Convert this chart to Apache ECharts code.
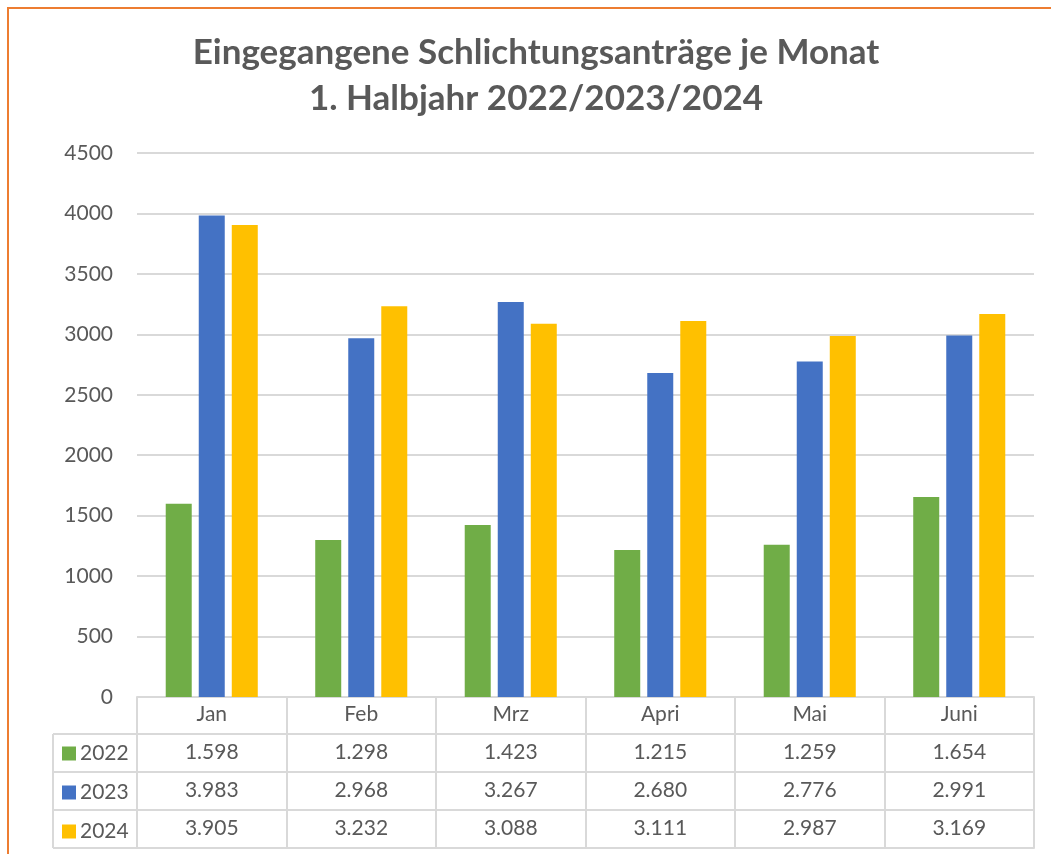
<!DOCTYPE html>
<html lang="de">
<head>
    <meta charset="UTF-8">
    <title>Schlichtungsanträge</title>
    <script src="https://cdn.jsdelivr.net/npm/echarts@6/dist/echarts.min.js"></script>
    <style>
        html, body { margin: 0; padding: 0; background: #fff; }
    </style>
</head>
<body>
<div id="main" style="width: 1051px;height:854px;"></div>
<script type="text/javascript">
    // Daten
    var months = ['Jan', 'Feb', 'Mrz', 'Apri', 'Mai', 'Juni'];
    var years = ['2022', '2023', '2024'];
    var v2022 = [1598, 1298, 1423, 1215, 1259, 1654];
    var v2023 = [3983, 2968, 3267, 2680, 2776, 2991];
    var v2024 = [3905, 3232, 3088, 3111, 2987, 3169];
    var yTicks = [0, 500, 1000, 1500, 2000, 2500, 3000, 3500, 4000, 4500];

    var colors = ['#70AD47', '#4472C4', '#FFC000'];
    var values = [v2022, v2023, v2024];
    var textColor = '#595959';
    var lineColor = '#D9D9D9';
    var font = 'Lato';
    var fs = 21;

    // Tabellen-Geometrie
    var gridLeft = 137, gridRight = 17, gridTop = 153, gridBottom = 157;
    var axisY = 854 - gridBottom;
    var headH = 37, rowH = 38;
    var tableLeft = 53;

    // 1598 -> "1.598"
    function fmt(n) {
        return String(n).replace(/\B(?=(\d{3})+(?!\d))/g, '.');
    }

    var myChart = echarts.init(document.getElementById('main'));

    var xAxes = [{
        type: 'category',
        data: months,
        position: 'bottom',
        axisLine: { show: true, lineStyle: { color: lineColor, width: 2 } },
        axisTick: { show: true, length: headH, interval: 0, lineStyle: { color: lineColor, width: 2 } },
        axisLabel: { color: textColor, fontSize: fs, fontFamily: font, margin: 7, interval: 0 }
    }];
    values.forEach(function (vals, i) {
        xAxes.push({
            type: 'category',
            data: months,
            position: 'bottom',
            offset: headH + i * rowH,
            axisLine: { show: true, lineStyle: { color: lineColor, width: 2 } },
            axisTick: { show: true, length: rowH, interval: 0, lineStyle: { color: lineColor, width: 2 } },
            axisLabel: {
                color: textColor, fontSize: fs, fontFamily: font, margin: 8, interval: 0,
                formatter: function (v, idx) { return fmt(vals[idx]); }
            }
        });
    });
    // untere Tabellenlinie
    xAxes.push({
        type: 'category',
        data: months,
        position: 'bottom',
        offset: headH + 3 * rowH,
        axisLine: { show: true, lineStyle: { color: lineColor, width: 2 } },
        axisTick: { show: false },
        axisLabel: { show: false }
    });

    var series = years.map(function (y, i) {
        return {
            name: y,
            type: 'bar',
            data: values[i],
            barWidth: 26,
            barGap: '27%',
            itemStyle: { color: colors[i] }
        };
    });

    // linke Legendenspalte der Tabelle
    var y0 = axisY + headH;
    var legendLines = [];
    for (var r = 0; r <= 3; r++) {
        legendLines.push({
            type: 'line',
            shape: { x1: tableLeft, y1: y0 + r * rowH, x2: gridLeft, y2: y0 + r * rowH },
            style: { stroke: lineColor, lineWidth: 2 }
        });
    }
    legendLines.push({
        type: 'line',
        shape: { x1: tableLeft, y1: y0, x2: tableLeft, y2: y0 + 3 * rowH },
        style: { stroke: lineColor, lineWidth: 2 }
    });

    var option = {
        animation: false,
        textStyle: { fontFamily: font },
        title: {
            text: 'Eingegangene Schlichtungsanträge je Monat\n1. Halbjahr 2022/2023/2024',
            left: 536,
            top: 30,
            textAlign: 'center',
            padding: 0,
            textStyle: {
                color: textColor,
                fontSize: 35,
                fontWeight: 'bold',
                fontFamily: font,
                lineHeight: 46
            }
        },
        legend: {
            data: years,
            orient: 'vertical',
            left: 62,
            top: y0 + 9,
            padding: 0,
            itemWidth: 14,
            itemHeight: 14,
            itemGap: 18,
            icon: 'rect',
            selectedMode: false,
            textStyle: { color: textColor, fontSize: fs, fontFamily: font, lineHeight: 20, padding: [0, 0, 0, -1] }
        },
        grid: { left: gridLeft, right: gridRight, top: gridTop, bottom: gridBottom, containLabel: false },
        xAxis: xAxes,
        yAxis: {
            type: 'value',
            min: yTicks[0],
            max: yTicks[yTicks.length - 1],
            interval: 500,
            axisLine: { show: false },
            axisTick: { show: false },
            axisLabel: {
                color: textColor, fontSize: fs, fontFamily: font, margin: 24,
                formatter: function (v) { return String(v); }
            },
            splitLine: { lineStyle: { color: lineColor, width: 2 } }
        },
        series: series,
        graphic: [{
            type: 'rect',
            shape: { x: 8, y: 8, width: 1200, height: 1000 },
            style: { fill: 'none', stroke: '#ED7D31', lineWidth: 2 },
            silent: true
        }].concat(legendLines)
    };

    myChart.setOption(option);
</script>
</body>
</html>
